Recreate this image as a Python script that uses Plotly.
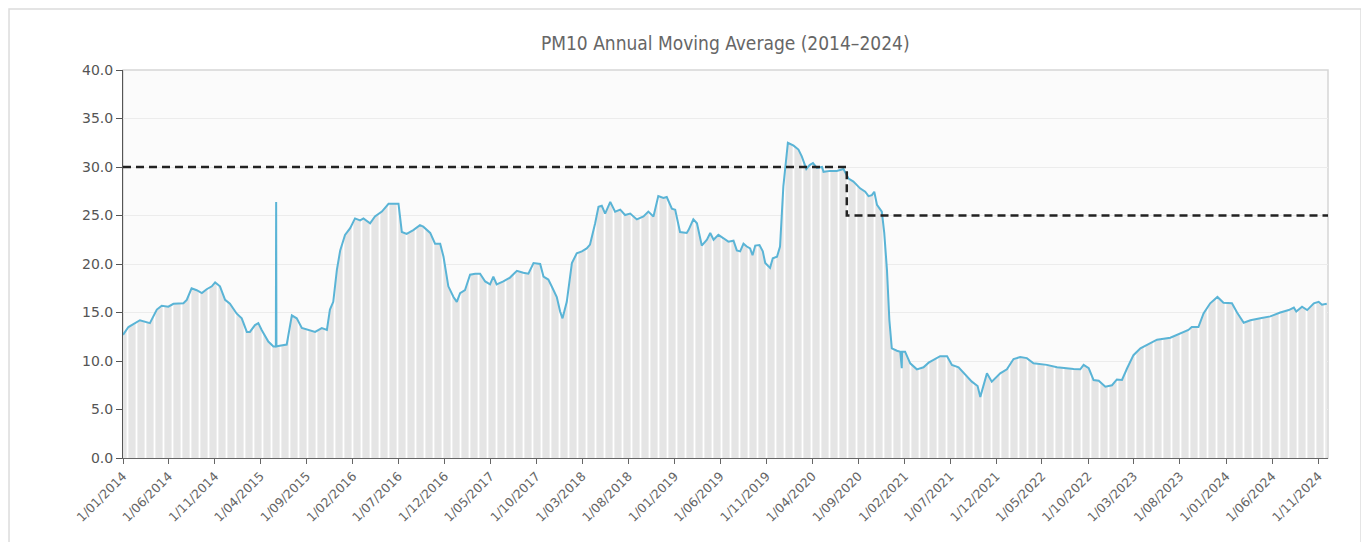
import plotly.graph_objects as go

# ---- data ----
dates = [
    "2014-01-01", "2014-01-19", "2014-02-26", "2014-03-20", "2014-03-31", "2014-04-23", "2014-05-09",
    "2014-05-31", "2014-06-17", "2014-07-20", "2014-07-31", "2014-08-16", "2014-09-02", "2014-09-19",
    "2014-10-05", "2014-10-22", "2014-11-02", "2014-11-18", "2014-12-05", "2014-12-21", "2015-01-12",
    "2015-01-29", "2015-02-15", "2015-02-25", "2015-03-14", "2015-03-25", "2015-04-05", "2015-04-27",
    "2015-05-14", "2015-05-22", "2015-05-23", "2015-05-24", "2015-05-30", "2015-06-27", "2015-07-14",
    "2015-07-30", "2015-08-16", "2015-09-07", "2015-09-29", "2015-10-21", "2015-11-07", "2015-11-17",
    "2015-11-28", "2015-12-10", "2015-12-21", "2016-01-06", "2016-01-23", "2016-02-08", "2016-02-25",
    "2016-03-07", "2016-03-29", "2016-04-14", "2016-05-07", "2016-05-29", "2016-07-01", "2016-07-12",
    "2016-07-28", "2016-08-19", "2016-09-10", "2016-09-21", "2016-10-14", "2016-10-30", "2016-11-16",
    "2016-11-27", "2016-12-13", "2016-12-30", "2017-01-10", "2017-01-21", "2017-02-06", "2017-02-23",
    "2017-03-12", "2017-03-28", "2017-04-14", "2017-04-30", "2017-05-11", "2017-05-22", "2017-06-13",
    "2017-07-05", "2017-07-28", "2017-08-18", "2017-09-04", "2017-09-21", "2017-10-13", "2017-10-24",
    "2017-11-09", "2017-11-20", "2017-12-07", "2017-12-18", "2017-12-26", "2018-01-09", "2018-01-26",
    "2018-02-11", "2018-02-28", "2018-03-16", "2018-03-27", "2018-04-13", "2018-04-24", "2018-05-05",
    "2018-05-16", "2018-06-02", "2018-06-18", "2018-07-05", "2018-07-21", "2018-08-07", "2018-08-29",
    "2018-09-20", "2018-10-06", "2018-10-23", "2018-11-08", "2018-11-25", "2018-12-06", "2018-12-23",
    "2019-01-03", "2019-01-19", "2019-02-10", "2019-02-16", "2019-03-04", "2019-03-16", "2019-04-01",
    "2019-04-18", "2019-04-29", "2019-05-10", "2019-05-26", "2019-06-12", "2019-06-28", "2019-07-15",
    "2019-07-26", "2019-08-06", "2019-08-17", "2019-08-28", "2019-09-08", "2019-09-16", "2019-09-25",
    "2019-10-09", "2019-10-20", "2019-10-28", "2019-11-13", "2019-11-22", "2019-12-06", "2019-12-16",
    "2019-12-27", "2020-01-11", "2020-01-30", "2020-02-15", "2020-02-26", "2020-03-12", "2020-03-23",
    "2020-04-03", "2020-04-16", "2020-05-03", "2020-05-08", "2020-05-30", "2020-06-21", "2020-07-13",
    "2020-07-30", "2020-08-15", "2020-09-06", "2020-09-23", "2020-10-04", "2020-10-15", "2020-10-23",
    "2020-11-01", "2020-11-17", "2020-11-25", "2020-12-04", "2020-12-12", "2020-12-20", "2021-01-06",
    "2021-01-17", "2021-01-22", "2021-01-23", "2021-02-02", "2021-02-19", "2021-03-13", "2021-04-04",
    "2021-04-21", "2021-05-07", "2021-05-29", "2021-06-21", "2021-07-07", "2021-07-29", "2021-08-20",
    "2021-09-11", "2021-09-30", "2021-10-09", "2021-10-31", "2021-11-16", "2021-12-14", "2022-01-05",
    "2022-01-27", "2022-02-18", "2022-03-12", "2022-04-03", "2022-05-17", "2022-06-20", "2022-08-14",
    "2022-09-05", "2022-09-16", "2022-10-03", "2022-10-19", "2022-11-05", "2022-11-27", "2022-12-19",
    "2023-01-04", "2023-01-21", "2023-02-07", "2023-02-28", "2023-03-23", "2023-04-25", "2023-05-17",
    "2023-06-30", "2023-08-02", "2023-08-29", "2023-09-09", "2023-10-01", "2023-10-18", "2023-11-09",
    "2023-12-03", "2023-12-23", "2024-01-20", "2024-02-06", "2024-02-28", "2024-03-21", "2024-04-23",
    "2024-05-26", "2024-06-28", "2024-07-26", "2024-08-12", "2024-08-20", "2024-09-08", "2024-09-25",
    "2024-10-17", "2024-11-02", "2024-11-13", "2024-11-29",
]
pm10 = [
    12.7, 13.5, 14.2, 14.05, 13.9, 15.3, 15.7,
    15.6, 15.9, 15.95, 16.3, 17.5, 17.3, 17.0,
    17.4, 17.7, 18.1, 17.7, 16.3, 15.9, 14.9,
    14.4, 13.0, 13.0, 13.7, 13.9, 13.2, 12.0,
    11.5, 11.5, 26.4, 11.5, 11.55, 11.7, 14.7,
    14.4, 13.4, 13.2, 13.0, 13.4, 13.2, 15.3,
    16.1, 19.4, 21.4, 23.0, 23.7, 24.7, 24.5,
    24.7, 24.2, 24.9, 25.4, 26.2, 26.2, 23.3,
    23.1, 23.5, 24.0, 23.85, 23.2, 22.1, 22.1,
    20.75, 17.7, 16.6, 16.1, 17.0, 17.3, 18.9,
    19.0, 19.0, 18.2, 17.9, 18.7, 17.9, 18.2,
    18.6, 19.3, 19.1, 19.0, 20.1, 20.0, 18.7,
    18.4, 17.7, 16.6, 15.1, 14.4, 16.1, 20.1,
    21.1, 21.3, 21.6, 22.0, 24.2, 25.9, 26.0,
    25.2, 26.4, 25.4, 25.6, 25.05, 25.2, 24.6,
    24.9, 25.4, 24.9, 27.0, 26.8, 26.9, 25.7,
    25.6, 23.3, 23.2, 23.5, 24.6, 24.2, 21.9,
    22.5, 23.2, 22.5, 23.0, 22.65, 22.3, 22.4,
    21.4, 21.3, 22.1, 21.8, 21.6, 20.9, 21.9,
    21.95, 21.3, 20.1, 19.6, 20.6, 20.75, 21.8,
    28.0, 32.5, 32.2, 31.8, 31.1, 29.8, 30.2,
    30.4, 29.9, 30.0, 29.5, 29.6, 29.6, 29.8,
    28.8, 28.5, 27.8, 27.45, 27.0, 27.1, 27.45,
    26.1, 25.4, 23.2, 19.4, 14.2, 11.3, 11.06,
    10.96, 9.25, 10.96, 10.96, 9.76, 9.14, 9.35,
    9.83, 10.1, 10.5, 10.5, 9.6, 9.35, 8.56,
    7.87, 7.42, 6.3, 8.73, 7.87, 8.73, 9.14,
    10.2, 10.4, 10.3, 9.76, 9.6, 9.35, 9.18,
    9.14, 9.6, 9.25, 8.04, 7.97, 7.35, 7.5,
    8.1, 8.04, 9.25, 10.6, 11.3, 11.8, 12.2,
    12.4, 12.85, 13.2, 13.5, 13.5, 14.9, 15.95,
    16.6, 16.0, 15.95, 15.0, 13.95, 14.2, 14.4,
    14.6, 15.0, 15.25, 15.5, 15.1, 15.6, 15.25,
    15.95, 16.1, 15.8, 15.9,
]

# standard (objective) step line
std_dates = ["2014-01-01", "2020-07-24", "2024-12-03"]
std_values = [30, 25, 25]

title_text = "PM10 Annual Moving Average (2014–2024)"
x_start, x_end = "2014-01-01", "2024-12-03"

fig = go.Figure()

fig.add_trace(go.Scatter(
    x=dates, y=pm10, mode="lines",
    line=dict(color="rgba(0,0,0,0)", width=0),
    fill="tozeroy", fillcolor="#e5e5e5",
    fillpattern=dict(shape="|", bgcolor="#e5e5e5", fgcolor="#ffffff",
                     size=9, solidity=0.2, fillmode="replace"),
    hoverinfo="skip", showlegend=False,
))

fig.add_trace(go.Scatter(
    x=dates, y=pm10, mode="lines",
    line=dict(color="#5ab4d6", width=2),
    showlegend=False, name="PM10",
))

fig.add_trace(go.Scatter(
    x=std_dates, y=std_values, mode="lines",
    line=dict(color="#222222", width=2.5, dash="8px,5px", shape="hv"),
    showlegend=False, name="Standard",
))

# outer chart frame and plot border
fig.add_shape(type="rect", xref="paper", yref="paper",
              x0=-0.0946, x1=1.0274, y0=-0.3, y1=1.157,
              line=dict(color="#dcdcdc", width=1.5), layer="below")
fig.add_shape(type="rect", xref="paper", yref="paper",
              x0=0, x1=1, y0=0, y1=1,
              line=dict(color="#d6d6d6", width=1.5), layer="below")

fig.update_layout(
    width=1361, height=534,
    margin=dict(l=115, r=41, t=62, b=84),
    paper_bgcolor="#ffffff",
    plot_bgcolor="#fbfbfb",
    title=dict(text=title_text, x=0.527, xanchor="center", y=1 - 35 / 534, yanchor="middle",
               yref="container",
               font=dict(family="Liberation Sans Narrow, DejaVu Sans Condensed, Arial Narrow, sans-serif",
                         size=19, color="#666666")),
    font=dict(family="DejaVu Sans, Verdana, sans-serif", color="#555555"),
    showlegend=False,
)

fig.update_xaxes(
    type="date", range=[x_start, x_end],
    tick0="2014-01-01", dtick="M5", tickformat="%-d/%m/%Y",
    tickangle=-45, tickfont=dict(size=12.5, color="#666666"),
    ticks="outside", ticklen=5, tickcolor="#666666",
    showline=True, linecolor="#666666", linewidth=1,
    showgrid=False, zeroline=False,
)
fig.update_yaxes(
    range=[0, 40], dtick=5, tickformat=".1f",
    tickfont=dict(size=14, color="#555555"),
    ticks="outside", ticklen=6, tickcolor="#555555",
    showline=True, linecolor="#555555", linewidth=1,
    showgrid=True, gridcolor="#ececec", gridwidth=1,
    zeroline=False,
)

fig.write_html("out.html")
